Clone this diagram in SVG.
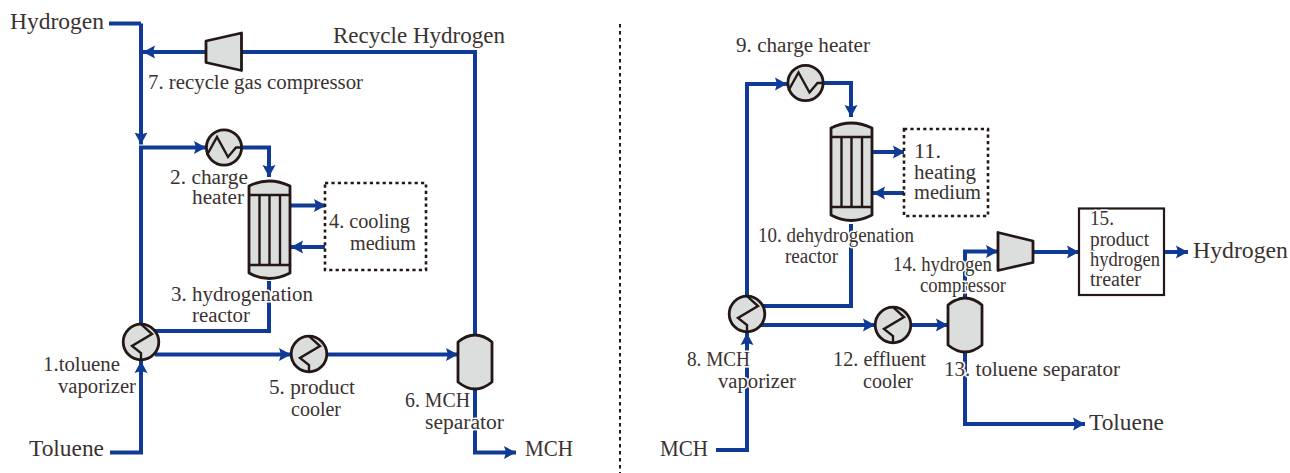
<svg xmlns="http://www.w3.org/2000/svg" width="1290" height="473" viewBox="0 0 1290 473">
<style>
text{font-family:"Liberation Serif","Times New Roman",serif;fill:#3a3230}
.l{font-size:20.500px;stroke:#fff;stroke-width:3px;paint-order:stroke;stroke-linejoin:round}
.b{font-size:24px}
.c{fill:none;stroke:#0f3a96;stroke-width:4}
.a{marker-end:url(#ah)}
.n{fill:#dcdddd;stroke:#231815;stroke-width:2.800;stroke-linejoin:round}
.i{fill:none;stroke:#231815;stroke-width:2.400}
.d{fill:#fff;stroke:#231815;stroke-width:2.600;stroke-dasharray:3.200 3.200}
</style>
<defs>
<marker id="ah" markerUnits="userSpaceOnUse" markerWidth="14" markerHeight="16" refX="12" refY="8" orient="auto"><path d="M0 1.500L12 8L0 14.500L2 8Z" fill="#0f3a96"/></marker>
<g id="hx"><circle r="17.600" class="n"/><path class="i" d="M-17 7.500L-7-10.500L4 9.500L12 0H17.600"/></g>
<g id="vx"><circle r="17.800" class="n"/><path class="i" d="M0-17.800L11-8L-9 4L0 11V17.800"/></g>
<g id="rx"><path class="n" d="M0 7Q20-3 41 7V94Q20 105 0 94Z"/><path class="i" d="M0 16H41M0 86H41M10.500 16V86M20.500 16V86M31 16V86"/></g>
<path id="sep" class="n" d="M0 7Q17-7 34 7V47Q17 61 0 47Z"/>
</defs>
<path d="M620 24V473" fill="none" stroke="#231815" stroke-width="2" stroke-dasharray="3.500 3.500"/>
<g id="connectors">
<path class="c" d="M109 23.500H141"/>
<path class="c a" d="M141 23.500V144.500"/>
<path class="c a" d="M475 335V52H143"/>
<path class="c a" d="M141 325V147.500H206"/>
<path class="c a" d="M241 147.500H269V177"/>
<path class="c" d="M269 281V331H155"/>
<path class="c a" d="M155 354.500H291"/>
<path class="c a" d="M327 354.500H458"/>
<path class="c a" d="M475 389V452.500H516"/>
<path class="c a" d="M110 452.500H141V361"/>
<path class="c a" d="M291 205.500H326"/>
<path class="c a" d="M325 247H291"/>
<path class="c a" d="M747 296V84H787"/>
<path class="c a" d="M824 83H851V117"/>
<path class="c" d="M851 224V306H762"/>
<path class="c a" d="M758 325H875"/>
<path class="c a" d="M911 325H948"/>
<path class="c a" d="M965 298V251.500H998"/>
<path class="c a" d="M1034 252H1079"/>
<path class="c a" d="M1165 252H1188"/>
<path class="c a" d="M965 352V424H1085"/>
<path class="c a" d="M716 450H747V333"/>
<path class="c a" d="M872 152H905"/>
<path class="c a" d="M904 193H873"/>
</g>
<g id="feed-hydrogen"><text class="b" x="10" y="29" textLength="94" lengthAdjust="spacingAndGlyphs">Hydrogen</text></g>
<g id="recycle"><text class="b" x="333" y="43" textLength="172" lengthAdjust="spacingAndGlyphs">Recycle Hydrogen</text></g>
<g id="feed-toluene"><text class="b" x="29" y="456" textLength="75" lengthAdjust="spacingAndGlyphs">Toluene</text></g>
<g id="out-mch"><text class="b" x="525" y="456" textLength="48" lengthAdjust="spacingAndGlyphs">MCH</text></g>
<g id="n1"><use href="#vx" x="141" y="342"/><text class="l" x="43" y="371" textLength="77" lengthAdjust="spacingAndGlyphs">1.toluene</text><text class="l" x="58" y="393" textLength="78" lengthAdjust="spacingAndGlyphs">vaporizer</text></g>
<g id="n2"><use href="#hx" x="224" y="147.500"/><text class="l" x="170" y="184" textLength="78" lengthAdjust="spacingAndGlyphs">2. charge</text><text class="l" x="192" y="204" textLength="52" lengthAdjust="spacingAndGlyphs">heater</text></g>
<g id="n3"><use href="#rx" x="249" y="179"/><text class="l" x="171" y="301" textLength="142" lengthAdjust="spacingAndGlyphs">3. hydrogenation</text><text class="l" x="192" y="322" textLength="58" lengthAdjust="spacingAndGlyphs">reactor</text></g>
<g id="n4"><rect class="d" x="325" y="183" width="101" height="87"/><text class="l" x="329" y="228" textLength="81" lengthAdjust="spacingAndGlyphs">4. cooling</text><text class="l" x="350" y="250" textLength="66" lengthAdjust="spacingAndGlyphs">medium</text></g>
<g id="n5"><use href="#vx" x="309" y="354"/><text class="l" x="269" y="394" textLength="86" lengthAdjust="spacingAndGlyphs">5. product</text><text class="l" x="291" y="416" textLength="50" lengthAdjust="spacingAndGlyphs">cooler</text></g>
<g id="n6"><use href="#sep" x="458" y="335"/><text class="l" x="405" y="407" textLength="65" lengthAdjust="spacingAndGlyphs">6. MCH</text><text class="l" x="425" y="429" textLength="79" lengthAdjust="spacingAndGlyphs">separator</text></g>
<g id="n7"><path class="n" d="M206 41L241.500 33V70.500L206 62.500Z"/><text class="l" x="148" y="89" textLength="215" lengthAdjust="spacingAndGlyphs">7. recycle gas compressor</text></g>
<g id="feed-mch"><text class="b" x="660" y="456" textLength="48" lengthAdjust="spacingAndGlyphs">MCH</text></g>
<g id="out-toluene"><text class="b" x="1089" y="430" textLength="75" lengthAdjust="spacingAndGlyphs">Toluene</text></g>
<g id="out-hydrogen"><text class="b" x="1193" y="258" textLength="95" lengthAdjust="spacingAndGlyphs">Hydrogen</text></g>
<g id="n8"><use href="#vx" x="747" y="314"/><text class="l" x="687" y="366" textLength="63" lengthAdjust="spacingAndGlyphs">8. MCH</text><text class="l" x="718" y="388" textLength="78" lengthAdjust="spacingAndGlyphs">vaporizer</text></g>
<g id="n9"><use href="#hx" x="805.500" y="83"/><text class="l" x="736" y="52" textLength="134" lengthAdjust="spacingAndGlyphs">9. charge heater</text></g>
<g id="n10"><use href="#rx" x="831" y="121"/><text class="l" x="758" y="242" textLength="156" lengthAdjust="spacingAndGlyphs">10. dehydrogenation</text><text class="l" x="785" y="263" textLength="53" lengthAdjust="spacingAndGlyphs">reactor</text></g>
<g id="n11"><rect class="d" x="904" y="129" width="84" height="87"/><text class="l" x="914" y="158" textLength="27" lengthAdjust="spacingAndGlyphs">11.</text><text class="l" x="914" y="179" textLength="62" lengthAdjust="spacingAndGlyphs">heating</text><text class="l" x="914" y="199" textLength="67" lengthAdjust="spacingAndGlyphs">medium</text></g>
<g id="n12"><use href="#vx" x="893" y="325"/><text class="l" x="833" y="366" textLength="93" lengthAdjust="spacingAndGlyphs">12. effluent</text><text class="l" x="863" y="388" textLength="50" lengthAdjust="spacingAndGlyphs">cooler</text></g>
<g id="n13"><use href="#sep" x="948" y="298"/><text class="l" x="944" y="376" textLength="176" lengthAdjust="spacingAndGlyphs">13. toluene separator</text></g>
<g id="n14"><path class="n" d="M998 232.500L1033 241V262.500L998 270.500Z"/><text class="l" x="893" y="271" textLength="99" lengthAdjust="spacingAndGlyphs">14. hydrogen</text><text class="l" x="920" y="292" textLength="86" lengthAdjust="spacingAndGlyphs">compressor</text></g>
<g id="n15"><rect x="1079" y="208.500" width="85" height="86.500" fill="#fff" stroke="#231815" stroke-width="2.200"/><text class="l" x="1090" y="225" textLength="24" lengthAdjust="spacingAndGlyphs">15.</text><text class="l" x="1090" y="246" textLength="59" lengthAdjust="spacingAndGlyphs">product</text><text class="l" x="1090" y="266" textLength="70" lengthAdjust="spacingAndGlyphs">hydrogen</text><text class="l" x="1090" y="286" textLength="51" lengthAdjust="spacingAndGlyphs">treater</text></g>
</svg>
